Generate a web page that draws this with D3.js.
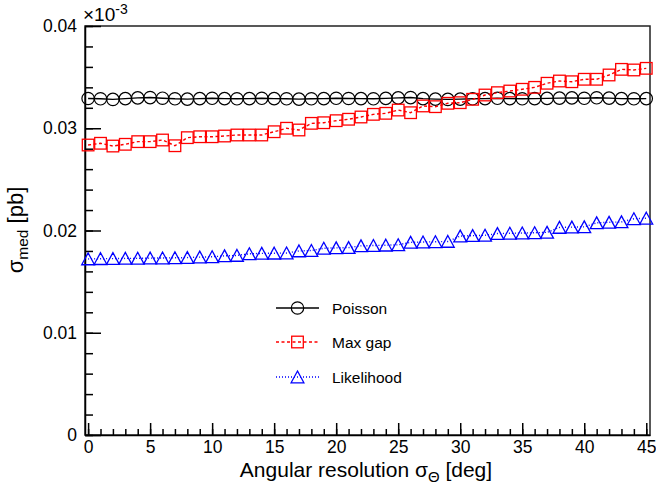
<!DOCTYPE html>
<html lang="en">
<head>
  <meta charset="UTF-8">
  <title>Median cross section vs angular resolution</title>
  <script src="https://d3js.org/d3.v7.min.js"></script>
  <style>
    body {
      margin: 0;
      background: #fff;
    }
    svg {
      display: block;
      font-family: "Liberation Sans", Arial, Helvetica, sans-serif;
    }
    .axis text {
      font-size: 17.5px;
      fill: #000;
    }
    .axis path, .axis line {
      stroke: #000;
      stroke-width: 1.5;
    }
  </style>
</head>
<body>
  <svg id="chart" width="656" height="492"></svg>

  <script>
    // angular resolution in degrees (x values)
    const angles = [0, 1, 2, 3, 4, 5, 6, 7, 8, 9, 10, 11, 12, 13, 14, 15, 16, 17, 18, 19, 20, 21, 22,
      23, 24, 25, 26, 27, 28, 29, 30, 31, 32, 33, 34, 35, 36, 37, 38, 39, 40, 41, 42, 43, 44, 45];

    // median upper limits in pb
    const poisson = [0.03291, 0.03288, 0.03282, 0.03290, 0.03297, 0.03300, 0.03294, 0.03288, 0.03285, 0.03290,
      0.03293, 0.03290, 0.03288, 0.03290, 0.03293, 0.03290, 0.03288, 0.03285, 0.03288, 0.03290,
      0.03293, 0.03291, 0.03290, 0.03288, 0.03292, 0.03297, 0.03300, 0.03290, 0.03285, 0.03282,
      0.03285, 0.03288, 0.03290, 0.03293, 0.03290, 0.03288, 0.03290, 0.03292, 0.03295, 0.03297,
      0.03293, 0.03298, 0.03295, 0.03290, 0.03288, 0.03290];

    const maxGap = [0.02836, 0.02853, 0.02826, 0.02843, 0.02869, 0.02869, 0.02885, 0.02829, 0.02908, 0.02917,
      0.02917, 0.02924, 0.02934, 0.02934, 0.02934, 0.02966, 0.03000, 0.02983, 0.03048, 0.03054,
      0.03074, 0.03088, 0.03110, 0.03136, 0.03146, 0.03178, 0.03152, 0.03218, 0.03211, 0.03244,
      0.03250, 0.03283, 0.03325, 0.03348, 0.03364, 0.03381, 0.03400, 0.03440, 0.03462, 0.03455,
      0.03479, 0.03479, 0.03521, 0.03576, 0.03570, 0.03586];

    const likelihood = [0.01722, 0.01724, 0.01725, 0.01727, 0.01728, 0.01730, 0.01731, 0.01733, 0.01735, 0.01740,
      0.01743, 0.01752, 0.01756, 0.01772, 0.01776, 0.01778, 0.01780, 0.01800, 0.01804, 0.01826,
      0.01830, 0.01833, 0.01850, 0.01853, 0.01856, 0.01860, 0.01884, 0.01887, 0.01890, 0.01893,
      0.01945, 0.01950, 0.01953, 0.01970, 0.01973, 0.01975, 0.01978, 0.01982, 0.02030, 0.02033,
      0.02036, 0.02075, 0.02080, 0.02084, 0.02115, 0.02120];

    const xTicks = [0, 5, 10, 15, 20, 25, 30, 35, 40, 45];
    const yTicks = [0, 0.01, 0.02, 0.03, 0.04];
    const legendLabels = ["Poisson", "Max gap", "Likelihood"];

    const svg = d3.select("#chart");
    const mLeft = 85, mRight = 650, mTop = 26, mBottom = 435;

    const x = d3.scaleLinear().domain([-0.25, 45.3]).range([mLeft, mRight]);
    const y = d3.scaleLinear().domain([0, 0.04]).range([mBottom, mTop]);

    // frame
    svg.append("rect")
      .attr("x", mLeft).attr("y", mTop)
      .attr("width", mRight - mLeft).attr("height", mBottom - mTop)
      .attr("fill", "none").attr("stroke", "#222").attr("stroke-width", 1.5);

    // minor ticks
    svg.append("g")
      .attr("class", "axis")
      .attr("transform", `translate(0,${mBottom})`)
      .call(d3.axisBottom(x).tickValues(d3.range(0, 46, 1)).tickSizeInner(-6).tickSizeOuter(0).tickFormat(""))
      .call(g => g.select(".domain").remove());
    svg.append("g")
      .attr("class", "axis")
      .attr("transform", `translate(${mLeft},0)`)
      .call(d3.axisLeft(y).tickValues(d3.range(0, 0.0401, 0.002)).tickSizeInner(-8).tickSizeOuter(0).tickFormat(""))
      .call(g => g.select(".domain").remove());

    // major ticks + labels
    svg.append("g")
      .attr("class", "axis")
      .attr("transform", `translate(0,${mBottom})`)
      .call(d3.axisBottom(x).tickValues(xTicks).tickSizeInner(-12).tickSizeOuter(0).tickPadding(6).tickFormat(d3.format("d")))
      .call(g => g.select(".domain").attr("stroke-width", 2));
    svg.append("g")
      .attr("class", "axis")
      .attr("transform", `translate(${mLeft},0)`)
      .call(d3.axisLeft(y).tickValues(yTicks).tickSizeInner(-16).tickSizeOuter(0).tickPadding(8).tickFormat(d => d === 0 ? "0" : d3.format(".2f")(d)))
      .call(g => g.select(".domain").attr("stroke-width", 2));

    // exponent
    const expo = svg.append("text")
      .attr("x", 83).attr("y", 21)
      .attr("font-size", 19);
    expo.append("tspan").text("\u00d710");
    expo.append("tspan").attr("dy", -7).attr("font-size", 14).text("-3");

    // axis titles
    const xt = svg.append("text")
      .attr("x", 366).attr("y", 477)
      .attr("text-anchor", "middle")
      .attr("font-size", 21);
    xt.append("tspan").text("Angular resolution \u03c3");
    xt.append("tspan").attr("dy", 5).attr("font-size", 15).text("\u0398");
    xt.append("tspan").attr("dy", -5).text(" [deg]");

    const yt = svg.append("text")
      .attr("transform", "translate(23,230) rotate(-90)")
      .attr("text-anchor", "middle")
      .attr("font-size", 22);
    yt.append("tspan").text("\u03c3");
    yt.append("tspan").attr("dy", 5).attr("font-size", 15.5).text("med");
    yt.append("tspan").attr("dy", -5).text(" [pb]");

    const line = vals => d3.line()
      .x((d, i) => x(angles[i]))
      .y(d => y(d))(vals);

    const series = [
      { vals: poisson, color: "#000", dash: null },
      { vals: maxGap, color: "#f00", dash: "3,2.5" },
      { vals: likelihood, color: "#00f", dash: "1,2" }
    ];

    function marker(g, k, cx, cy) {
      const c = series[k].color;
      if (k === 0) {
        g.append("circle").attr("cx", cx).attr("cy", cy).attr("r", 6.2)
          .attr("fill", "none").attr("stroke", c).attr("stroke-width", 1.2);
      } else if (k === 1) {
        g.append("rect").attr("x", cx - 5.8).attr("y", cy - 5.8).attr("width", 11.6).attr("height", 11.6)
          .attr("fill", "none").attr("stroke", c).attr("stroke-width", 1.3);
      } else {
        g.append("path").attr("d", `M${cx},${cy - 6} L${cx + 6.4},${cy + 5.8} L${cx - 6.4},${cy + 5.8} Z`)
          .attr("fill", "none").attr("stroke", c).attr("stroke-width", 1.3);
      }
    }

    series.forEach((s, k) => {
      const g = svg.append("g");
      g.append("path")
        .attr("d", line(s.vals))
        .attr("fill", "none")
        .attr("stroke", s.color)
        .attr("stroke-width", 1.4)
        .attr("stroke-dasharray", s.dash);
      s.vals.forEach((v, i) => marker(g, k, x(angles[i]), y(v)));
    });

    // legend
    const legY = [308, 342, 377];
    legendLabels.forEach((name, k) => {
      const g = svg.append("g");
      g.append("line")
        .attr("x1", 276).attr("x2", 319).attr("y1", legY[k]).attr("y2", legY[k])
        .attr("stroke", series[k].color).attr("stroke-width", 1.4)
        .attr("stroke-dasharray", series[k].dash);
      marker(g, k, 297.5, legY[k]);
      g.append("text")
        .attr("x", 332).attr("y", legY[k] + 5.5)
        .attr("font-size", 15.5)
        .text(name);
    });
  </script>
</body>
</html>
